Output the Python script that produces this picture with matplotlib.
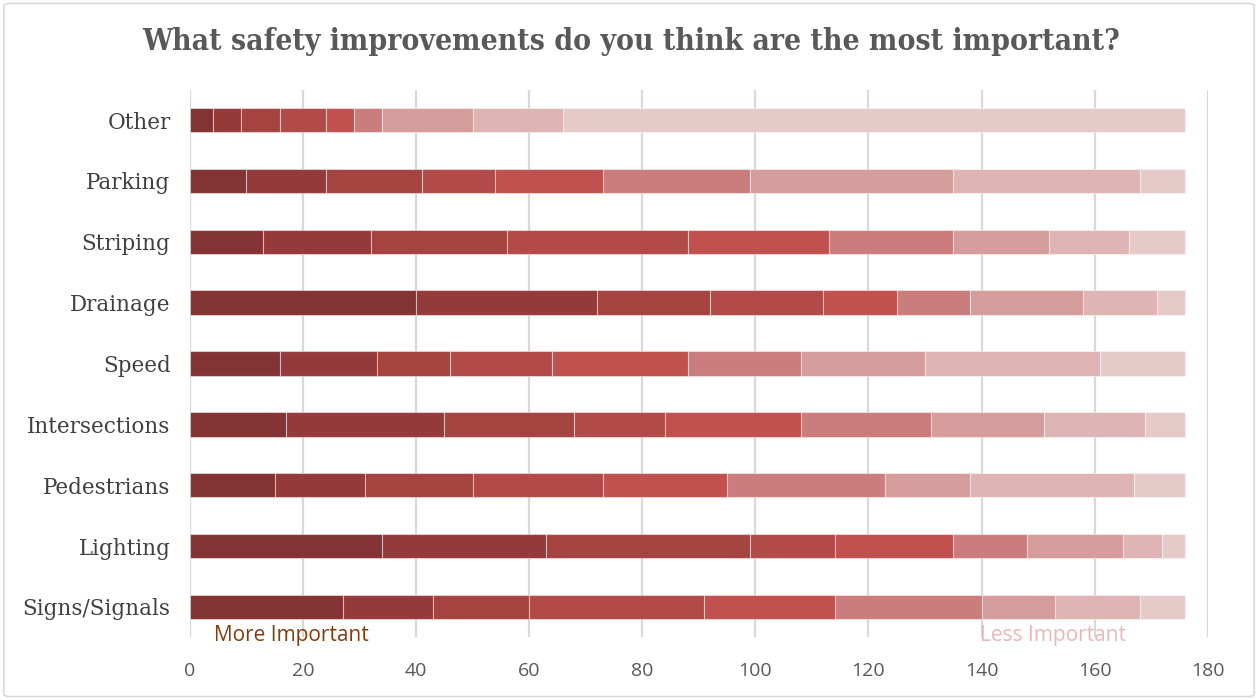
import numpy as np
import matplotlib.pyplot as plt
from matplotlib.patches import FancyBboxPatch

categories = ["Signs/Signals", "Lighting", "Pedestrians", "Intersections", "Speed",
              "Drainage", "Striping", "Parking", "Other"]

# votes per rank (1 = most important ... 9 = least important), same order as categories
rank_1 = [27, 34, 15, 17, 16, 40, 13, 10, 4]
rank_2 = [16, 29, 16, 28, 17, 32, 19, 14, 5]
rank_3 = [17, 36, 19, 23, 13, 20, 24, 17, 7]
rank_4 = [31, 15, 23, 16, 18, 20, 32, 13, 8]
rank_5 = [23, 21, 22, 24, 24, 13, 25, 19, 5]
rank_6 = [26, 13, 28, 23, 20, 13, 22, 26, 5]
rank_7 = [13, 17, 15, 20, 22, 20, 17, 36, 16]
rank_8 = [15, 7, 29, 18, 31, 13, 14, 33, 16]
rank_9 = [8, 4, 9, 7, 15, 5, 10, 8, 110]

ranks = [rank_1, rank_2, rank_3, rank_4, rank_5, rank_6, rank_7, rank_8, rank_9]
colors = ["#843334", "#953A3A", "#A54341", "#B14A48", "#C0514E",
          "#CA7D7C", "#D49C9B", "#DEB5B4", "#E6C9C9"]

fig = plt.figure(figsize=(12.58, 7), dpi=100)
ax = fig.add_axes([0.151, 0.0894, 0.809, 0.7826])

y = np.arange(len(categories))
left = np.zeros(len(categories))
for vals, c in zip(ranks, colors):
    ax.barh(y, vals, left=left, height=0.4, color=c,
            edgecolor=(1, 1, 1, 0.45), linewidth=0.8, zorder=3)
    left += np.array(vals)

ax.set_xlim(0, 180)
ax.set_ylim(-0.5, len(categories) - 0.5)
ax.set_xticks(np.arange(0, 181, 20))
ax.set_yticks(y)
ax.set_yticklabels(categories, family="DejaVu Serif", fontsize=15.5, color="#404040")
ax.tick_params(axis="y", length=0, pad=14)
ax.tick_params(axis="x", length=0, pad=18, labelsize=14, labelcolor="#595959")
for lab in ax.get_xticklabels():
    lab.set_family("Open Sans")
ax.grid(axis="x", color="#D9D9D9", linewidth=1.6, zorder=0)
for s in ax.spines.values():
    s.set_visible(False)

fig.text(0.502, 0.94, "What safety improvements do you think are the most important?",
         ha="center", va="center", family="DejaVu Serif", fontweight="bold",
         fontsize=21.5, color="#595959", fontstretch="condensed")

fig.text(0.170, 0.092, "More Important", ha="left", va="center",
         family="Open Sans", fontsize=15, color="#843C0C")
fig.text(0.779, 0.092, "Less Important", ha="left", va="center",
         family="Open Sans", fontsize=15, color="#E6B9B8")

border = FancyBboxPatch((0.003, 0.005), 0.994, 0.99, boxstyle="round,pad=0,rounding_size=0.004",
                        transform=fig.transFigure, facecolor="none",
                        edgecolor="#D9D9D9", linewidth=1.2)
fig.patches.append(border)

fig.savefig("out.png", dpi=100)
